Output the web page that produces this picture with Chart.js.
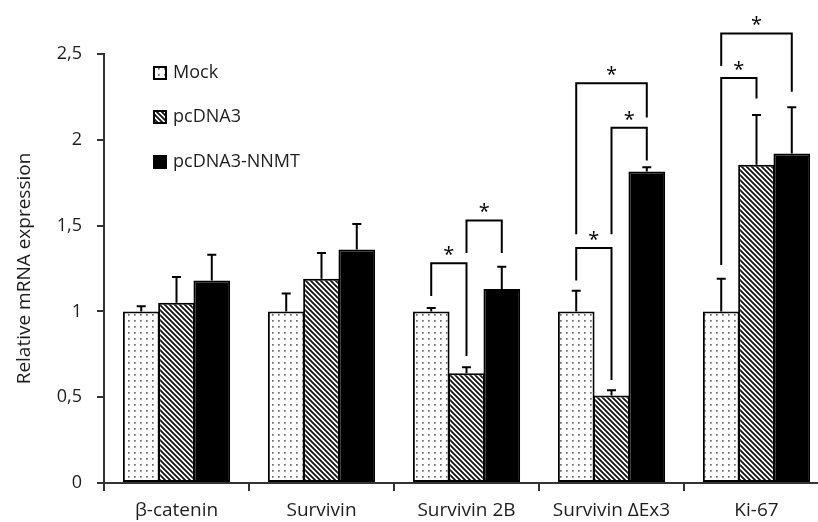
<!DOCTYPE html>
<html>
<head>
<meta charset="utf-8">
<script src="https://cdn.jsdelivr.net/npm/chart.js@4.4.1/dist/chart.umd.min.js"></script>
<style>
  html, body { margin: 0; padding: 0; background: #fff; overflow: hidden; }
  #wrap { width: 818px; height: 522px; overflow: hidden; }
</style>
</head>
<body>
<div id="wrap"><canvas id="chart" width="832" height="522"></canvas></div>
<script>
// data
var categories = ['β-catenin', 'Survivin', 'Survivin 2B', 'Survivin ΔEx3', 'Ki-67'];
var seriesNames = ['Mock', 'pcDNA3', 'pcDNA3-NNMT'];

var mockValues  = [1.00, 1.00, 1.00, 1.00, 1.00];
var mockErr     = [0.03, 0.105, 0.02, 0.12, 0.19];
var pcdnaValues = [1.05, 1.19, 0.64, 0.51, 1.855];
var pcdnaErr    = [0.15, 0.15, 0.035, 0.03, 0.29];
var nnmtValues  = [1.18, 1.36, 1.13, 1.815, 1.92];
var nnmtErr     = [0.15, 0.15, 0.13, 0.025, 0.27];

var yTickLabels = ['0', '0,5', '1', '1,5', '2', '2,5'];

// significance brackets: category, left series, right series, top, left leg end, right leg end
var bracketCat   = [2, 2, 3, 3, 3, 4, 4];
var bracketLeft  = [0, 1, 0, 0, 1, 0, 0];
var bracketRight = [1, 2, 1, 2, 2, 1, 2];
var bracketTop   = [1.28, 1.53, 1.37, 2.33, 2.07, 2.36, 2.62];
var bracketLEnd  = [1.09, 1.34, 1.18, 1.45, 1.45, 1.27, 2.43];
var bracketREnd  = [0.74, 1.34, 0.60, 2.13, 1.88, 2.24, 2.28];

var FONT = "'Open Sans', 'DejaVu Sans', sans-serif";
var INK = '#1e1e1e';

function dotPattern() {
    var c = document.createElement('canvas');
    c.width = 6; c.height = 6;
    var g = c.getContext('2d');
    g.fillStyle = '#fff';
    g.fillRect(0, 0, 6, 6);
    g.fillStyle = '#6a6a6a';
    g.fillRect(2, 2, 1.7, 1.7);
    return g.createPattern(c, 'repeat');
}

function hatchPattern() {
    var s = 5;
    var c = document.createElement('canvas');
    c.width = s; c.height = s;
    var g = c.getContext('2d');
    g.fillStyle = '#fff';
    g.fillRect(0, 0, s, s);
    g.strokeStyle = '#111';
    g.lineWidth = 1.8;
    g.beginPath();
    g.moveTo(-1, -1); g.lineTo(s + 1, s + 1);
    g.moveTo(-1, s - 1); g.lineTo(1, s + 1);
    g.moveTo(s - 1, -1); g.lineTo(s + 1, 1);
    g.stroke();
    return g.createPattern(c, 'repeat');
}

var fills = [dotPattern(), hatchPattern(), '#000'];
var errors = [mockErr, pcdnaErr, nnmtErr];

var extras = {
    id: 'extras',
    afterDatasetsDraw: function (chart) {
        var ctx = chart.ctx;
        var y = chart.scales.y;
        ctx.save();
        ctx.strokeStyle = '#000';
        ctx.lineWidth = 2;
        // error bars (upper only)
        chart.data.datasets.forEach(function (ds, d) {
            var meta = chart.getDatasetMeta(d);
            meta.data.forEach(function (bar, i) {
                var top = y.getPixelForValue(ds.data[i] + errors[d][i]);
                ctx.beginPath();
                ctx.moveTo(bar.x, bar.y);
                ctx.lineTo(bar.x, top);
                ctx.moveTo(bar.x - 4.5, top);
                ctx.lineTo(bar.x + 4.5, top);
                ctx.stroke();
            });
        });
        ctx.restore();
    },
    afterDraw: function (chart) {
        var ctx = chart.ctx;
        var y = chart.scales.y;
        ctx.save();
        // brackets + stars
        ctx.strokeStyle = '#000';
        ctx.lineWidth = 2;
        ctx.fillStyle = '#000';
        ctx.font = '20px ' + FONT;
        ctx.textAlign = 'center';
        ctx.textBaseline = 'alphabetic';
        for (var k = 0; k < bracketCat.length; k++) {
            var xl = chart.getDatasetMeta(bracketLeft[k]).data[bracketCat[k]].x;
            var xr = chart.getDatasetMeta(bracketRight[k]).data[bracketCat[k]].x;
            var yt = y.getPixelForValue(bracketTop[k]);
            ctx.beginPath();
            ctx.moveTo(xl, y.getPixelForValue(bracketLEnd[k]));
            ctx.lineTo(xl, yt);
            ctx.lineTo(xr, yt);
            ctx.lineTo(xr, y.getPixelForValue(bracketREnd[k]));
            ctx.stroke();
            ctx.fillText('*', (xl + xr) / 2, yt - 2);
        }
        // legend
        var rows = [73, 117, 162];
        ctx.font = '18px ' + FONT;
        ctx.textAlign = 'left';
        ctx.textBaseline = 'middle';
        for (var s = 0; s < seriesNames.length; s++) {
            ctx.fillStyle = fills[s];
            ctx.fillRect(154, rows[s] - 6, 12, 12);
            ctx.lineWidth = 2;
            ctx.strokeRect(154, rows[s] - 6, 12, 12);
            ctx.fillStyle = INK;
            ctx.fillText(seriesNames[s], 173, rows[s]);
        }
        ctx.restore();
    }
};

function makeSet(label, values, idx) {
    return {
        label: label,
        data: values,
        backgroundColor: fills[idx],
        borderColor: '#000',
        borderWidth: 2,
        borderSkipped: false,
        inflateAmount: 0
    };
}

new Chart(document.getElementById('chart'), {
    type: 'bar',
    data: {
        labels: categories,
        datasets: [
            makeSet(seriesNames[0], mockValues, 0),
            makeSet(seriesNames[1], pcdnaValues, 1),
            makeSet(seriesNames[2], nnmtValues, 2)
        ]
    },
    options: {
        responsive: false,
        animation: false,
        devicePixelRatio: 1,
        // bars a touch wider than their slot so neighbouring borders merge
        datasets: { bar: { categoryPercentage: 0.73, barPercentage: 1.04 } },
        layout: { padding: { top: 54, right: 3, left: 0, bottom: 0 } },
        plugins: {
            legend: { display: false },
            tooltip: { enabled: false }
        },
        scales: {
            x: {
                grid: { offset: true, drawOnChartArea: false, tickLength: 8, color: '#333', lineWidth: 2 },
                border: { color: '#333', width: 2 },
                ticks: { color: INK, font: { family: FONT, size: 19 }, padding: 8 },
                afterFit: function (s) { s.height = 39; }
            },
            y: {
                min: 0,
                max: 2.5,
                ticks: {
                    stepSize: 0.5,
                    color: INK,
                    font: { family: FONT, size: 18 },
                    padding: 15,
                    callback: function (v, i) { return yTickLabels[i]; }
                },
                grid: { drawOnChartArea: false, tickLength: 7, color: '#333', lineWidth: 2 },
                border: { color: '#333', width: 2 },
                title: {
                    display: true,
                    text: 'Relative mRNA expression',
                    color: INK,
                    font: { family: FONT, size: 19 },
                    padding: { top: 13, bottom: 0 }
                },
                afterFit: function (s) { s.width = 104; }
            }
        }
    },
    plugins: [extras]
});
</script>
</body>
</html>
